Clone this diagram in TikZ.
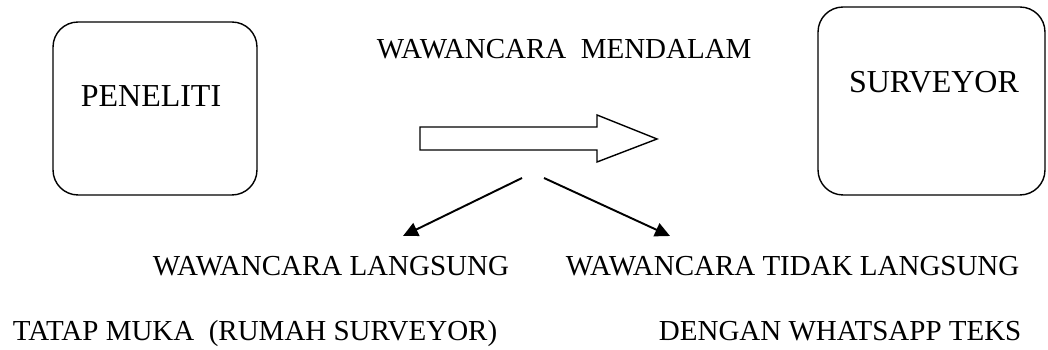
\documentclass[tikz,border=0pt]{standalone}
\usepackage{fontspec}
\setmainfont{Liberation Serif}
\usepackage{tikz}
\usetikzlibrary{arrows.meta,calc,positioning}

\begin{document}
\begin{tikzpicture}[x=0.02cm, y=-0.02cm, >={Triangle[length=8.5pt,width=8pt]}, line width=1.1pt,
  kotak/.style={draw, rounded corners=0.5cm, line width=0.8pt, inner sep=0pt},
  label/.style={font=\fontsize{18.2}{20}\selectfont, inner sep=0pt},
  teks/.style={font=\fontsize{16.5}{18}\selectfont, inner sep=0pt, anchor=base west}]

  \useasboundingbox (0,0) rectangle (1048,350);

  % kotak
  \node[kotak, minimum width=4.08cm, minimum height=3.46cm] (kotakpeneliti) at (155,108.5) {};
  \node[kotak, minimum width=4.54cm, minimum height=3.76cm] (kotaksurveyor) at (931.5,101) {};

  \node[label] (peneliti) at (151,96) {PENELITI};
  \node[label] (surveyor) at (934,82) {SURVEYOR};
  \node[teks] (mendalam) at (376,59) {WAWANCARA\ \ MENDALAM};

  % panah besar
  \draw[line width=0.8pt] (420,127) -- (597,127) -- (597,115) -- (657,139)
    -- (597,162) -- (597,150) -- (420,150) -- cycle;

  \node[teks] (langsung) at (152,276) {WAWANCARA LANGSUNG};
  \node[teks] (tidaklangsung) at (565,276) {WAWANCARA TIDAK LANGSUNG};
  \node[teks] (tatapmuka) at (12,341) {TATAP MUKA\ \ (RUMAH SURVEYOR)};
  \node[teks] (whatsapp) at (658,341) {DENGAN WHATSAPP TEKS};

  \coordinate (pisahkiri) at (522,178);
  \coordinate (pisahkanan) at (544,178);
  \coordinate (ujungkiri) at (403,236);
  \coordinate (ujungkanan) at (670,236);

  \draw[->] (pisahkiri) -- (ujungkiri);
  \draw[->] (pisahkanan) -- (ujungkanan);

\end{tikzpicture}
\end{document}
